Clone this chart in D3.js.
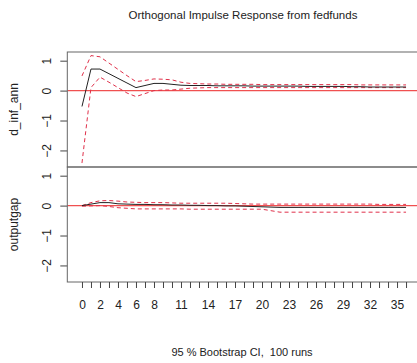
<!DOCTYPE html>
<html>
<head>
<meta charset="utf-8">
<script src="https://cdn.jsdelivr.net/npm/d3@7"></script>
<style>
  body { margin: 0; background: #fff; }
  text { font-family: "Liberation Sans", Arial, sans-serif; fill: #222; }
</style>
</head>
<body>
<div id="chart"></div>
<script>
const horizon = [0, 1, 2, 3, 4, 5, 6, 7, 8, 9, 10, 11, 12, 13, 14, 15, 16, 17, 18,
    19, 20, 21, 22, 23, 24, 25, 26, 27, 28, 29, 30, 31, 32, 33, 34, 35, 36];
const xLabels = [0, 2, 4, 6, 8, 11, 14, 17, 20, 23, 26, 29, 32, 35];
const yTicks = [1, 0, -1, -2];

// d_inf_ann response to fedfunds
const inflIrf = [-0.53, 0.72, 0.72, 0.565, 0.41, 0.255, 0.10, 0.17, 0.24, 0.24, 0.21, 0.18,
    0.17, 0.17, 0.17, 0.16, 0.16, 0.16, 0.16, 0.15, 0.15, 0.15, 0.15, 0.15, 0.15,
    0.14, 0.14, 0.14, 0.14, 0.14, 0.13, 0.13, 0.12, 0.12, 0.12, 0.12, 0.12];
const inflUpper = [0.49, 1.17, 1.13, 0.92, 0.71, 0.50, 0.30, 0.34, 0.39, 0.38, 0.36, 0.28,
    0.24, 0.23, 0.22, 0.22, 0.21, 0.21, 0.21, 0.21, 0.20, 0.20, 0.20, 0.20, 0.20,
    0.20, 0.20, 0.20, 0.20, 0.20, 0.20, 0.19, 0.19, 0.19, 0.19, 0.19, 0.19];
const inflLower = [-2.42, 0.10, 0.45, 0.28, 0.10, -0.08, -0.20, -0.10, 0.00, 0.02, 0.02, 0.05,
    0.08, 0.09, 0.10, 0.10, 0.10, 0.10, 0.10, 0.10, 0.10, 0.10, 0.10, 0.10, 0.10,
    0.10, 0.10, 0.10, 0.10, 0.10, 0.10, 0.10, 0.10, 0.10, 0.10, 0.10, 0.10];

// outputgap response to fedfunds
const gapIrf = [0.00, 0.05, 0.10, 0.10, 0.06, 0.05, 0.04, 0.04, 0.03, 0.03, 0.02, 0.02,
    0.01, 0.01, 0.00, 0.00, -0.01, -0.01, -0.02, -0.03, -0.04, -0.05, -0.06, -0.06, -0.06,
    -0.06, -0.06, -0.06, -0.06, -0.06, -0.06, -0.06, -0.06, -0.06, -0.06, -0.06, -0.06];
const gapUpper = [0.00, 0.10, 0.16, 0.17, 0.15, 0.12, 0.11, 0.10, 0.10, 0.10, 0.09, 0.08,
    0.08, 0.08, 0.08, 0.08, 0.08, 0.07, 0.06, 0.05, 0.05, 0.05, 0.05, 0.05, 0.05,
    0.05, 0.05, 0.05, 0.05, 0.05, 0.05, 0.05, 0.05, 0.04, 0.04, 0.04, 0.04];
const gapLower = [-0.02, -0.01, 0.00, -0.03, -0.07, -0.09, -0.11, -0.11, -0.11, -0.11, -0.11, -0.11,
    -0.12, -0.12, -0.12, -0.12, -0.12, -0.12, -0.12, -0.12, -0.12, -0.17, -0.22, -0.22, -0.22,
    -0.22, -0.22, -0.22, -0.22, -0.22, -0.22, -0.22, -0.22, -0.22, -0.22, -0.22, -0.22];

const panels = [
    { name: 'd_inf_ann', irf: inflIrf, upper: inflUpper, lower: inflLower },
    { name: 'outputgap', irf: gapIrf, upper: gapUpper, lower: gapLower }
];

const width = 417, height = 363;
const plotLeft = 67.3, plotRight = 419, plotTop = 52, panelH = 115;

const svg = d3.select('#chart').append('svg')
    .attr('width', width)
    .attr('height', height);

svg.append('rect').attr('width', width).attr('height', height).attr('fill', '#fff');

const x = d3.scaleLinear().domain([-1.63, 37.44]).range([plotLeft, plotRight]);

svg.append('text')
    .attr('x', 243).attr('y', 19)
    .attr('text-anchor', 'middle')
    .style('font-size', '11.5px')
    .text('Orthogonal Impulse Response from fedfunds');

panels.forEach((p, i) => {
    const y0 = plotTop + i * panelH;
    const y = d3.scaleLinear().domain([-2.553, 1.29]).range([y0 + panelH, y0]);
    const g = svg.append('g');

    svg.append('clipPath').attr('id', 'clip' + i)
        .append('rect').attr('x', plotLeft).attr('y', y0)
        .attr('width', plotRight - plotLeft).attr('height', panelH);

    const plot = g.append('g').attr('clip-path', 'url(#clip' + i + ')');

    plot.append('line')
        .attr('x1', plotLeft).attr('x2', plotRight)
        .attr('y1', y(0)).attr('y2', y(0))
        .attr('stroke', '#f05050').attr('stroke-width', 1.2);

    const line = d3.line().x((d, j) => x(horizon[j])).y(d => y(d));

    [p.upper, p.lower].forEach(s => {
        plot.append('path').datum(s)
            .attr('d', line)
            .attr('fill', 'none')
            .attr('stroke', '#e0304a')
            .attr('stroke-width', 1)
            .attr('stroke-dasharray', '4,3');
    });
    plot.append('path').datum(p.irf)
        .attr('d', line)
        .attr('fill', 'none')
        .attr('stroke', '#222')
        .attr('stroke-width', 1);

    // y axis
    const ya = g.append('g')
        .attr('transform', 'translate(' + plotLeft + ',0)')
        .call(d3.axisLeft(y).tickValues(yTicks).tickSize(7).tickFormat(d3.format('d')));
    ya.select('.domain').remove();
    ya.selectAll('line').attr('stroke', '#444');
    ya.selectAll('text')
        .style('font-size', '12px')
        .attr('text-anchor', 'middle')
        .attr('dy', null)
        .attr('x', null)
        .attr('transform', 'translate(-20,0) rotate(-90)')
        .attr('y', 4);

    g.append('text')
        .attr('transform', 'translate(18,' + (y0 + panelH / 2) + ') rotate(-90)')
        .attr('text-anchor', 'middle')
        .style('font-size', '12px')
        .text(p.name);

    g.append('rect')
        .attr('x', plotLeft).attr('y', y0)
        .attr('width', plotRight - plotLeft).attr('height', panelH)
        .attr('fill', 'none').attr('stroke', '#666').attr('stroke-width', 1);
});

const xa = svg.append('g')
    .attr('transform', 'translate(0,' + (plotTop + 2 * panelH) + ')')
    .call(d3.axisBottom(x).tickValues(horizon).tickSize(6).tickPadding(12)
        .tickFormat(d => xLabels.includes(d) ? d : ''));
xa.select('.domain').remove();
xa.selectAll('line').attr('stroke', '#444');
xa.selectAll('text').style('font-size', '12px');

svg.append('text')
    .attr('x', 242).attr('y', 356)
    .attr('text-anchor', 'middle')
    .style('font-size', '11px')
    .style('white-space', 'pre')
    .text('95 % Bootstrap CI,  100 runs');
</script>
</body>
</html>
